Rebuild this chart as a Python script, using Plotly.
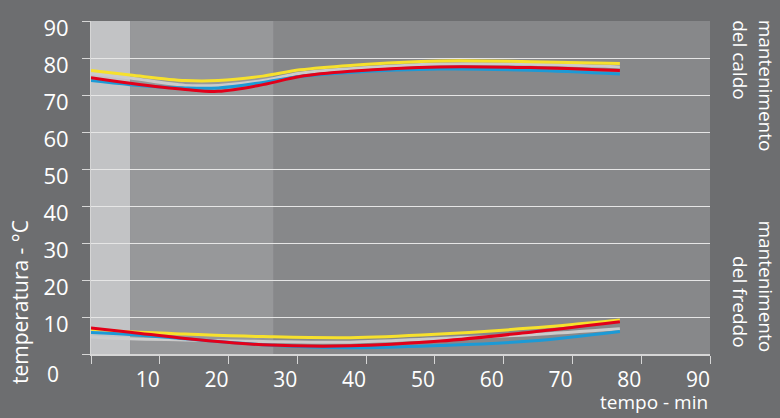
import plotly.graph_objects as go

# ---- data ----
time_hot = [0, 5.7, 13.7, 18.5, 25, 30.4, 37.7, 50.8, 63.9, 76.9]
hot_yellow = [76.6, 75.4, 73.9, 73.9, 75.1, 76.8, 78.0, 79.2, 79.0, 78.5]
hot_gray = [75.9, 74.6, 72.6, 72.6, 73.9, 75.9, 77.1, 78.4, 78.3, 77.6]
hot_red = [74.7, 73.2, 71.5, 71.0, 72.8, 75.0, 76.4, 77.6, 77.4, 76.6]
hot_blue = [73.9, 72.8, 71.9, 71.9, 73.4, 75.0, 76.1, 77.0, 76.7, 75.7]

time_cold = [0, 5.7, 13.7, 25, 37.7, 50.8, 63.9, 76.9]
cold_yellow = [6.7, 6.0, 5.4, 4.7, 4.4, 5.4, 7.0, 9.2]
cold_gray = [4.6, 4.1, 3.8, 3.4, 3.2, 4.2, 5.2, 6.8]
cold_red = [7.0, 5.9, 4.2, 2.5, 2.2, 3.5, 5.9, 8.7]
cold_blue = [5.8, 5.3, 4.1, 2.5, 1.7, 2.3, 3.5, 6.1]

bands = [(0, 5.7, "#c2c3c5"), (5.7, 26.5, "#97989a")]

x_ticks = [0, 10, 20, 30, 40, 50, 60, 70, 80, 90]
x_ticktext = ["", "10", "20", "30", "40", "50", "60", "70", "80", "90"]
y_ticks = [0, 10, 20, 30, 40, 50, 60, 70, 80, 90]
y_ticktext = ["", "10", "20", "30", "40", "50", "60", "70", "80", "90"]

FONT = "Open Sans"
W, H = 780, 418
L, R, T, B = 91, 70, 14, 64
PW, PH = W - L - R, H - T - B


def px(x):
    return (x - L) / PW


def py(y):
    return (H - B - y) / PH


colors = {"yellow": "#f7e12c", "gray": "#cbcbcb", "red": "#e2001a", "blue": "#1c9ad6"}

fig = go.Figure()
series = [
    ("gray", hot_gray, cold_gray),
    ("yellow", hot_yellow, cold_yellow),
    ("blue", hot_blue, cold_blue),
    ("red", hot_red, cold_red),
]
for name, hot, cold in series:
    fig.add_trace(go.Scatter(x=time_hot, y=hot, mode="lines",
                             line=dict(color=colors[name], width=3, shape="spline", smoothing=1.0),
                             showlegend=False, hoverinfo="skip"))
    fig.add_trace(go.Scatter(x=time_cold, y=cold, mode="lines",
                             line=dict(color=colors[name], width=3, shape="spline", smoothing=1.0),
                             showlegend=False, hoverinfo="skip"))

for x0, x1, c in bands:
    fig.add_shape(type="rect", xref="x", yref="paper", x0=x0, x1=x1, y0=0, y1=1,
                  fillcolor=c, line=dict(width=0), layer="below")

fig.update_xaxes(range=[0, 90], tickvals=x_ticks, ticktext=x_ticktext,
                 showgrid=False, zeroline=False,
                 showline=True, linecolor="#d6d6d6", linewidth=1.5,
                 ticks="outside", ticklen=8, tickcolor="#d6d6d6", tickwidth=1.2,
                 tickfont=dict(family=FONT, size=21, color="#ffffff"),
                 ticklabelshift=-12, ticklabelstandoff=-2)
fig.update_yaxes(range=[0, 90], tickvals=y_ticks, ticktext=y_ticktext,
                 showgrid=True, gridcolor="#e6e6e6", gridwidth=1.3, zeroline=False,
                 showline=True, linecolor="#d6d6d6", linewidth=1,
                 ticks="outside", ticklen=8, tickcolor="#d6d6d6", tickwidth=1.2,
                 tickfont=dict(family=FONT, size=22, color="#ffffff"),
                 ticklabelshift=7, ticklabelstandoff=9)

ann = []
afont = dict(family=FONT, size=19, color="#ffffff")
ann.append(dict(text="0", x=px(52.5), y=py(374), xref="paper", yref="paper",
                xanchor="center", yanchor="middle", showarrow=False,
                font=dict(family=FONT, size=21, color="#ffffff")))
ann.append(dict(text="temperatura - °C", x=px(20), y=py(301), xref="paper", yref="paper",
                xanchor="center", yanchor="middle", textangle=-90, showarrow=False,
                font=dict(family=FONT, size=21, color="#ffffff")))
ann.append(dict(text="tempo - min", x=px(710), y=py(418), xref="paper", yref="paper",
                xanchor="right", yanchor="bottom", showarrow=False,
                font=dict(family=FONT, size=19, color="#ffffff")))
ann.append(dict(text="mantenimento", x=px(766), y=py(80), xref="paper", yref="paper",
                xanchor="center", yanchor="middle", textangle=90, showarrow=False, font=afont))
ann.append(dict(text="del caldo", x=px(740), y=py(54), xref="paper", yref="paper",
                xanchor="center", yanchor="middle", textangle=90, showarrow=False, font=afont))
ann.append(dict(text="mantenimento", x=px(766), y=py(285), xref="paper", yref="paper",
                xanchor="center", yanchor="middle", textangle=90, showarrow=False, font=afont))
ann.append(dict(text="del freddo", x=px(740), y=py(301), xref="paper", yref="paper",
                xanchor="center", yanchor="middle", textangle=90, showarrow=False, font=afont))

fig.update_layout(width=W, height=H, margin=dict(l=L, r=R, t=T, b=B, pad=0),
                  paper_bgcolor="#6d6e70", plot_bgcolor="#87888a",
                  annotations=ann, showlegend=False)

fig.write_html("out.html", config={"displayModeBar": False},
               post_script="document.body.style.margin='0px';")
